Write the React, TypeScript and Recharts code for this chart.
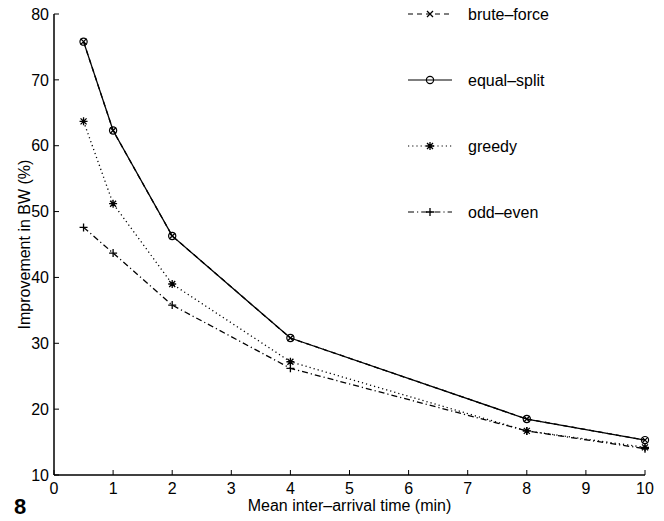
import React from 'react';
import { LineChart, Line, XAxis, YAxis, Label } from 'recharts';

// mean inter-arrival time (min)
const arrivalTimes = [0.5, 1, 2, 4, 8, 10];

// improvement in BW (%) per scheme
const bruteForce = [75.8, 62.3, 46.3, 30.8, 18.5, 15.3];
const equalSplit = [75.8, 62.3, 46.3, 30.8, 18.5, 15.3];
const greedy = [63.7, 51.2, 39.0, 27.2, 16.7, 14.2];
const oddEven = [47.6, 43.7, 35.8, 26.2, 16.7, 14.0];

const xTicks = [0, 1, 2, 3, 4, 5, 6, 7, 8, 9, 10];
const yTicks = [10, 20, 30, 40, 50, 60, 70, 80];

const data = arrivalTimes.map((x, i) => ({
    x,
    bruteForce: bruteForce[i],
    equalSplit: equalSplit[i],
    greedy: greedy[i],
    oddEven: oddEven[i],
}));

const FONT = 'Arial, "Liberation Sans", Helvetica, sans-serif';
const INK = '#000';

// marker shapes, matlab style
type MarkerProps = { cx?: number; cy?: number; key?: string };
type Marker = 'x' | 'o' | '*' | '+';

function markerPath(kind: Marker, cx: number, cy: number, r = 4) {
    const d = r * 0.75;
    if (kind === 'x') return `M${cx - d},${cy - d}L${cx + d},${cy + d}M${cx - d},${cy + d}L${cx + d},${cy - d}`;
    if (kind === '+') return `M${cx - r},${cy}L${cx + r},${cy}M${cx},${cy - r}L${cx},${cy + r}`;
    if (kind === '*')
        return `M${cx - r},${cy}L${cx + r},${cy}M${cx},${cy - r}L${cx},${cy + r}` +
            `M${cx - d},${cy - d}L${cx + d},${cy + d}M${cx - d},${cy + d}L${cx + d},${cy - d}`;
    return '';
}

function MarkerShape({ kind, cx, cy }: { kind: Marker; cx: number; cy: number }) {
    if (kind === 'o') return <circle cx={cx} cy={cy} r={3.6} fill="none" stroke={INK} strokeWidth={1.2} />;
    return <path d={markerPath(kind, cx, cy)} stroke={INK} strokeWidth={1.3} fill="none" />;
}

const makeDot = (kind: Marker) => (props: MarkerProps) => {
    const { cx = 0, cy = 0, key } = props;
    return <MarkerShape key={key} kind={kind} cx={cx} cy={cy} />;
};

const series = [
    { key: 'bruteForce', name: 'brute–force', marker: 'x' as Marker, dash: '5 4' },
    { key: 'equalSplit', name: 'equal–split', marker: 'o' as Marker, dash: undefined },
    { key: 'greedy', name: 'greedy', marker: '*' as Marker, dash: '1.2 3' },
    { key: 'oddEven', name: 'odd–even', marker: '+' as Marker, dash: '6 3 1.2 3' },
];

// legend rows in the top right corner
function ChartLegend() {
    return (
        <svg width={664} height={230} style={{ position: 'absolute', left: 0, top: 0, pointerEvents: 'none' }}>
            {series.map((s, i) => {
                const y = 14 + i * 66;
                return (
                    <g key={s.key}>
                        <line x1={408} x2={452} y1={y} y2={y} stroke={INK} strokeWidth={1.2} strokeDasharray={s.dash} />
                        <MarkerShape kind={s.marker} cx={430} cy={y} />
                        <text x={468} y={y + 5.5} fontSize={16} fontFamily={FONT} fill={INK}>{s.name}</text>
                    </g>
                );
            })}
        </svg>
    );
}

export default function App() {
    return (
        <div style={{ position: 'absolute', left: 0, top: 0, width: 664, height: 521, background: '#fff' }}>
            <LineChart width={664} height={521} data={data} margin={{ top: 14, right: 19, left: 0, bottom: 0 }}>
                <XAxis
                    dataKey="x"
                    type="number"
                    domain={[0, 10]}
                    ticks={xTicks}
                    height={46}
                    tickSize={-5}
                    tickMargin={12.6}
                    axisLine={{ stroke: INK, strokeWidth: 1.5 }}
                    tickLine={{ stroke: INK, strokeWidth: 1 }}
                    tick={{ fill: INK, fontSize: 16, fontFamily: FONT }}
                    interval={0}
                >
                    <Label
                        content={() => (
                            <text x={349.5} y={511} textAnchor="middle" fontSize={16} fontFamily={FONT} fill={INK}>
                                Mean inter–arrival time (min)
                            </text>
                        )}
                    />
                </XAxis>
                <YAxis
                    type="number"
                    domain={[10, 80]}
                    ticks={yTicks}
                    width={54}
                    tickSize={-5}
                    tickMargin={10}
                    axisLine={{ stroke: INK, strokeWidth: 1.5 }}
                    tickLine={{ stroke: INK, strokeWidth: 1 }}
                    tick={{ fill: INK, fontSize: 16, fontFamily: FONT }}
                    interval={0}
                >
                    <Label
                        content={() => (
                            <text
                                x={30}
                                y={244.5}
                                transform="rotate(-90 30 244.5)"
                                textAnchor="middle"
                                fontSize={16}
                                fontFamily={FONT}
                                fill={INK}
                            >
                                Improvement in BW (%)
                            </text>
                        )}
                    />
                </YAxis>
                {series.map(s => (
                    <Line
                        key={s.key}
                        dataKey={s.key}
                        name={s.name}
                        type="linear"
                        stroke={INK}
                        strokeWidth={1.3}
                        strokeDasharray={s.dash}
                        dot={makeDot(s.marker)}
                        activeDot={false}
                        isAnimationActive={false}
                    />
                ))}
            </LineChart>
            <ChartLegend />
            {/* figure number fragment at the bottom-left edge */}
            <svg width={40} height={521} style={{ position: 'absolute', left: 0, top: 0, pointerEvents: 'none' }}>
                <text x={14} y={514} fontSize={22} fontWeight="bold" fontFamily={FONT} fill={INK}>8</text>
            </svg>
        </div>
    );
}
